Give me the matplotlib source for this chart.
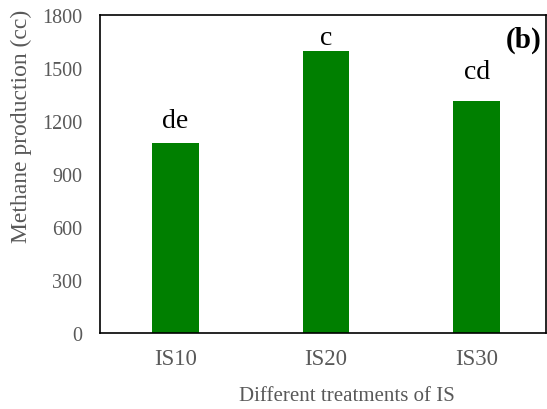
import matplotlib.pyplot as plt

plt.rcParams['font.family'] = ['Liberation Serif', 'DejaVu Serif']

# Data
treatments = ['IS10', 'IS20', 'IS30']
methane = [1078, 1598, 1315]
letters = ['de', 'c', 'cd']
letter_y = [1166, 1636, 1443]
yticks = [0, 300, 600, 900, 1200, 1500, 1800]

fig = plt.figure(figsize=(5.47, 4.10), dpi=100)
ax = fig.add_axes([0.183, 0.185, 0.815, 0.776])

x = range(len(treatments))
ax.bar(x, methane, width=0.31, color='#007f00')

# significance letters above the bars
for i, (lab, ly) in enumerate(zip(letters, letter_y)):
    ax.text(i, ly, lab, ha='center', va='baseline', fontsize=20, color='black')

ax.text(0.991, 0.899, '(b)', transform=ax.transAxes, ha='right', va='baseline',
        fontsize=21, fontweight='bold')

ax.set_xlim(-0.5, 2.46)
ax.set_ylim(0, 1800)
ax.set_yticks(yticks)
ax.set_xticks(list(x))
ax.set_xticklabels(treatments)
ax.tick_params(length=0, colors='#595959')
ax.tick_params(axis='y', pad=13, labelsize=14.5)
ax.tick_params(axis='x', pad=10.5, labelsize=16.5)

for sp in ax.spines.values():
    sp.set_color('black')
    sp.set_linewidth(1.2)

ax.set_ylabel('Methane production (cc)', fontsize=17, color='#595959')
ax.yaxis.set_label_coords(-0.1525, 0.654)
ax.set_xlabel('Different treatments of IS', fontsize=15, color='#595959')
ax.xaxis.set_label_coords(0.554, -0.165)

fig.savefig('out.png', dpi=100)
